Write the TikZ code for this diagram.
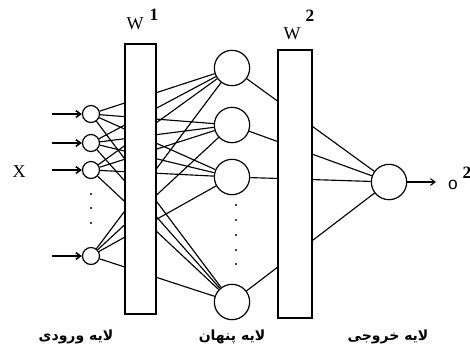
\documentclass[tikz,border=0pt]{standalone}
\usepackage{fontspec}
\setmainfont{Liberation Serif}
\newfontfamily\sansfont{Liberation Sans}
\newfontfamily\arabicfont[Script=Arabic]{DejaVu Sans}
\TeXXeTstate=1
\usetikzlibrary{arrows.meta}
\begin{document}
\begin{tikzpicture}[x=0.75pt,y=-0.75pt,
  inneuron/.style={circle,draw,line width=0.9pt,inner sep=0pt,minimum size=12.75pt,fill=white},
  neuron/.style={circle,draw,line width=0.9pt,inner sep=0pt,minimum size=26.5pt,fill=white},
  wbox/.style={draw,line width=1.1pt,fill=white,inner sep=0pt},
  conn/.style={line width=0.85pt},
  inarrow/.style={line width=1.2pt,-{Straight Barb[length=3.5pt,width=5pt]}},
  outarrow/.style={line width=0.8pt,-{Straight Barb[length=3.5pt,width=5pt]}},
  dotmark/.style={circle,fill=black,inner sep=0pt,minimum size=1.8pt},
  lbl/.style={font=\fontsize{13.5}{15}\selectfont,inner sep=0pt},
  sup/.style={font=\fontsize{13}{15}\selectfont\bfseries,inner sep=0pt},
  ar/.style={font=\arabicfont\bfseries\fontsize{10.5}{12}\selectfont,inner sep=0pt}]
\useasboundingbox (0,0) rectangle (470,351);
\fill[white] (0,0) rectangle (470,351);
% input neurons
\node[inneuron] (i1) at (91,114) {};
\node[inneuron] (i2) at (91,143) {};
\node[inneuron] (i3) at (91,170) {};
\node[inneuron] (i4) at (91,256) {};
% hidden neurons
\node[neuron] (h1) at (232,68) {};
\node[neuron] (h2) at (232,125) {};
\node[neuron] (h3) at (232,177) {};
\node[neuron] (h4) at (232,302) {};
% output neuron
\node[neuron] (o) at (389,182) {};
% connections
\foreach \i in {1,2,3,4}{
  \foreach \j in {1,2,3,4}{
    \draw[conn] (i\i) -- (h\j);
  }
  \draw[conn] (h\i) -- (o);
}
% weight boxes
\node[wbox,minimum width=23.25pt,minimum height=202.5pt] (w1) at (140.5,179) {};
\node[wbox,minimum width=25.5pt,minimum height=201pt] (w2) at (295,184) {};
% input arrows
\coordinate (a1) at (52,114);
\coordinate (a2) at (52,143);
\coordinate (a3) at (52,170);
\coordinate (a4) at (52,256);
\foreach \k in {1,2,3,4}{\draw[inarrow] (a\k) -- (i\k);}
% output arrow
\coordinate (oe) at (436,182);
\draw[outarrow] (o) -- (oe);
% dots
\node[dotmark] (d1) at (91,194) {};
\node[dotmark] (d2) at (91,208) {};
\node[dotmark] (d3) at (91,223) {};
\node[dotmark] (e1) at (236,205) {};
\node[dotmark] (e2) at (236,220) {};
\node[dotmark] (e3) at (236,235) {};
\node[dotmark] (e4) at (236,250) {};
\node[dotmark] (e5) at (236,264) {};
% labels
\node[lbl] (x) at (19,172) {X};
\node[lbl] (w1l) at (135,24) {W};
\node[sup] (w1s) at (154,15) {1};
\node[lbl] (w2l) at (292,34) {W};
\node[sup] (w2s) at (310,16) {2};
\node[lbl,font=\sansfont\fontsize{13}{15}\selectfont] (ol) at (453,185) {o};
\node[sup] (os) at (467,173) {2};
\node[ar] (l1) at (76,337) {\beginR لایه ورودی\endR};
\node[ar] (l2) at (232,337) {\beginR لایه پنهان\endR};
\node[ar] (l3) at (388,337) {\beginR لایه خروجی\endR};
\end{tikzpicture}
\end{document}
